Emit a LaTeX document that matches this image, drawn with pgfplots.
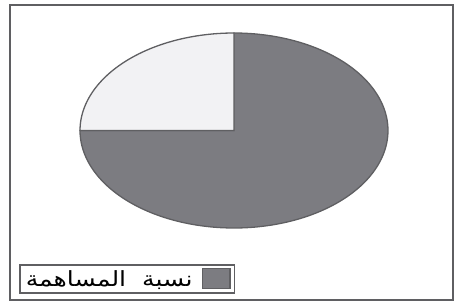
\documentclass[border=0pt]{standalone}
\usepackage{pgfplots}
\usepackage{pgfplotstable}
\pgfplotsset{compat=1.18}
\usepackage{fontspec}
\newfontfamily\arabicfont[Script=Arabic, FakeStretch=1.2]{DejaVu Sans}
\TeXXeTstate=1
\definecolor{darkslice}{RGB}{124,124,129}
\definecolor{lightslice}{RGB}{242,242,244}
\definecolor{edge}{RGB}{95,95,98}
\pgfplotstableread{
share start
75 180
25 90
}\slices
\pgfplotstablegetelem{0}{share}\of\slices \edef\shareA{\pgfplotsretval}
\pgfplotstablegetelem{0}{start}\of\slices \edef\startA{\pgfplotsretval}
\pgfplotstablegetelem{1}{share}\of\slices \edef\shareB{\pgfplotsretval}
\pgfplotstablegetelem{1}{start}\of\slices \edef\startB{\pgfplotsretval}
\pgfmathsetmacro\endA{\startA+3.6*\shareA}
\pgfmathsetmacro\endB{\startB+3.6*\shareB}
\begin{document}
\begin{tikzpicture}
\begin{axis}[
  width=456bp, height=302bp, scale only axis,
  xmin=0, xmax=456, ymin=0, ymax=302, y dir=reverse,
  hide axis, clip=false,
  legend style={at={(axis cs:19,294)}, anchor=south west, draw=edge, line width=1.6pt,
    inner xsep=4pt, inner ysep=3pt, font=\fontsize{21}{23}\selectfont},
  legend plot pos=right,
  legend cell align=right,
  legend image code/.code={\draw[#1, draw=edge, line width=1.2pt] (0pt,-9pt) rectangle (28pt,11pt);},
]
\path (axis cs:0,0) rectangle (axis cs:456,302);
\draw[edge, line width=1.4pt] (axis cs:10,5) rectangle (axis cs:453,300);
\addplot[fill=darkslice, draw=edge, line width=1.3pt, domain=\startA:\endA, samples=120, smooth]
  ({234+154*cos(x)}, {130.5-97.5*sin(x)}) -- (axis cs:234,130.5) -- cycle;
\addlegendentry{\arabicfont\beginR نسبة~ المساهمة\endR\kern7pt}
\addplot[fill=lightslice, draw=edge, line width=1.3pt, domain=\startB:\endB, samples=60, smooth, forget plot]
  ({234+154*cos(x)}, {130.5-97.5*sin(x)}) -- (axis cs:234,130.5) -- cycle;
\end{axis}
\end{tikzpicture}
\end{document}
